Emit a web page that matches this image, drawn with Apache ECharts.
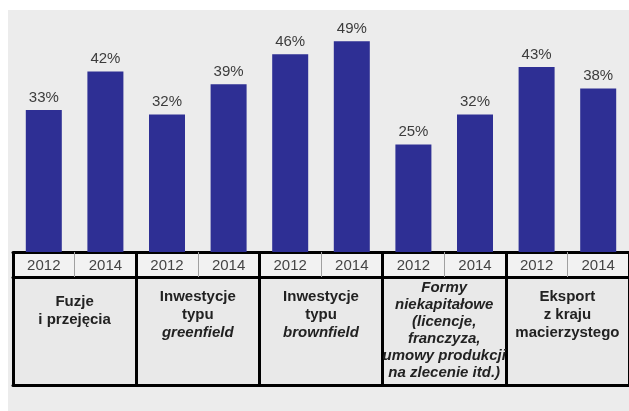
<!DOCTYPE html>
<html>
<head>
<meta charset="utf-8">
<script src="https://cdn.jsdelivr.net/npm/echarts@6/dist/echarts.min.js"></script>
<style>
  html, body { margin: 0; padding: 0; background: #fff; }
  #chart { width: 629px; height: 411px; }
</style>
</head>
<body>
<div id="chart"></div>
<script>
// dane z wykresu
const years = ['2012', '2014', '2012', '2014', '2012', '2014', '2012', '2014', '2012', '2014']
const shares = [33, 42, 32, 39, 46, 49, 25, 32, 43, 38]
const groups = [
    'Fuzje\ni przejęcia',
    'Inwestycje\ntypu\n{i|greenfield}',
    'Inwestycje\ntypu\n{i|brownfield}',
    '{i|Formy}\n{i|niekapitałowe}\n{i|(licencje,}\n{i|franczyza,}\n{i|umowy produkcji}\n{i|na zlecenie itd.)}',
    'Eksport\nz kraju\nmacierzystego'
]
// przesunięcie tekstu w komórkach (od góry)
const groupPad = [14, 9, 9, 0, 9]

const font = 'Liberation Sans, Arial, sans-serif'
const chart = echarts.init(document.getElementById('chart'))

const lineAxis = (offset) => ({
    type: 'category',
    position: 'bottom',
    offset: offset,
    data: groups.map(() => ''),
    axisLine: { show: true, lineStyle: { color: '#000', width: 3 } },
    axisTick: { show: false },
    axisLabel: { show: false },
    splitLine: { show: false }
})

const option = {
    backgroundColor: '#fff',
    animation: false,
    graphic: [
        { type: 'rect', z: -10, shape: { x: 8, y: 10, width: 621, height: 401 }, style: { fill: '#ececec' } },
        { type: 'rect', z: -9, shape: { x: 13, y: 252, width: 624, height: 25 }, style: { fill: '#f2f2f2' } },
        { type: 'rect', z: -9, shape: { x: 13, y: 277, width: 624, height: 108 }, style: { fill: '#e9e9e9' } }
    ],
    grid: { left: 13, right: -8, top: 37, bottom: 159 },
    xAxis: [
        {
            type: 'category',
            position: 'bottom',
            data: years,
            axisLine: { show: true, lineStyle: { color: '#000', width: 3 } },
            axisTick: { show: true, length: 25, lineStyle: { color: '#a0a0a0', width: 1 } },
            axisLabel: { margin: 6, fontSize: 15, color: '#444', fontFamily: font }
        },
        {
            type: 'category',
            position: 'bottom',
            data: groups.map((g, i) => ({ value: g, textStyle: { padding: [groupPad[i], 0, 0, 0], lineHeight: i === 3 ? 17 : 18 } })),
            axisLine: { show: false },
            axisTick: { show: true, length: 133, lineStyle: { color: '#000', width: 3 } },
            axisLabel: {
                margin: 27,
                interval: 0,
                fontSize: 15,
                fontWeight: 'bold',
                color: '#222',
                fontFamily: font,
                lineHeight: 18,
                rich: {
                    i: { fontStyle: 'italic', fontWeight: 'bold', fontSize: 15, color: '#222', fontFamily: font }
                }
            }
        },
        lineAxis(25),
        lineAxis(133)
    ],
    yAxis: { type: 'value', show: false, min: 0, max: 50 },
    series: [{
        type: 'bar',
        data: shares,
        barWidth: 36,
        itemStyle: { color: '#2e2f94' },
        label: {
            show: true,
            position: 'top',
            distance: 5,
            formatter: '{c}%',
            fontSize: 15,
            color: '#3c3c3c',
            fontFamily: font
        }
    }]
}

chart.setOption(option)
</script>
</body>
</html>
